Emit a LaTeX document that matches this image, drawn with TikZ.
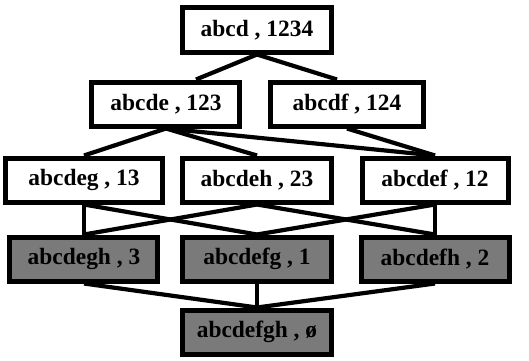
\documentclass[tikz,border=0pt]{standalone}
\usepackage{fontspec}
\setmainfont{Liberation Serif}
\usetikzlibrary{positioning}

\begin{document}
\begin{tikzpicture}[on grid,
    set/.style={draw,line width=5bp,fill=white,minimum width=148bp,minimum height=44bp,
      inner sep=0pt,font=\fontsize{23.5}{27}\selectfont\bfseries},
    closed/.style={set,fill=black!52},
    link/.style={line width=4.2bp}]
  \useasboundingbox (-257bp,30bp) rectangle (272bp,-331bp);

  \node[set] (abcd) {abcd , 1234};

  \node[set] (abcde) [below left=74bp and 91bp of abcd] {abcde , 123};
  \node[set,minimum width=153bp] (abcdf) [right=181bp of abcde] {abcdf , 124};

  \node[set,minimum width=157bp] (abcdeg) [below left=76bp and 82bp of abcde] {abcdeg , 13};
  \node[set] (abcdeh) [below=150bp of abcd] {abcdeh , 23};
  \node[set,minimum width=146bp] (abcdef) [below right=76bp and 88bp of abcdf] {abcdef , 12};

  \node[closed] (abcdegh) [below=79bp of abcdeg] {abcdegh , 3};
  \node[closed] (abcdefg) [below=79bp of abcdeh] {abcdefg , 1};
  \node[closed] (abcdefh) [below=79bp of abcdef] {abcdefh , 2};

  \node[closed] (abcdefgh) [below=73bp of abcdefg] {abcdefgh , ø};

  \path[link]
    (abcd.south) edge ([xshift=30bp]abcde.north)
    (abcd.south) edge ([xshift=-10bp]abcdf.north)

    (abcde.south) edge (abcdeg.north)
    (abcde.south) edge (abcdeh.north)
    (abcde.south) edge (abcdef.north)
    (abcdf.south) edge (abcdef.north)

    (abcdeg.south) edge (abcdegh.north)
    (abcdeg.south) edge (abcdefg.north)
    (abcdeh.south) edge (abcdegh.north)
    (abcdeh.south) edge (abcdefh.north)
    (abcdef.south) edge (abcdefg.north)
    (abcdef.south) edge (abcdefh.north)

    (abcdegh.south) edge (abcdefgh.north)
    (abcdefg.south) edge (abcdefgh.north)
    (abcdefh.south) edge (abcdefgh.north);
\end{tikzpicture}
\end{document}
